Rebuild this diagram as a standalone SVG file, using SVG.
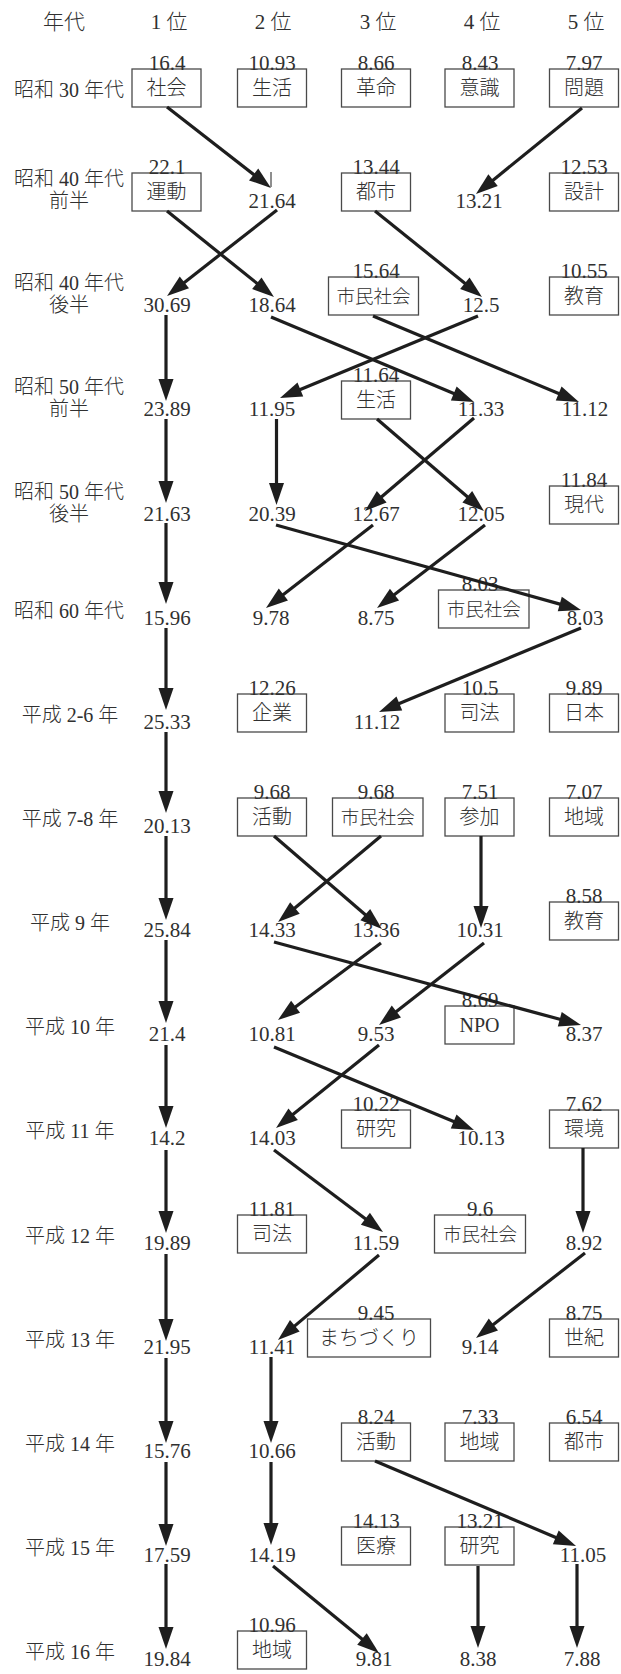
<svg xmlns="http://www.w3.org/2000/svg" width="621" height="1674" viewBox="0 0 621 1674">
<style>
text{font-family:"Liberation Serif","Noto Sans CJK JP",serif;fill:#303030;text-anchor:middle;font-weight:300}
.h{font-size:21px}
.lb{font-size:20px}
.n{font-size:21px}
.b{fill:#fff;stroke:#4a4a4a;stroke-width:1.3}
.t{font-size:20px}
.t2{font-size:18.5px}
.a{stroke:#1e1e1e;stroke-width:3.2;fill:none;marker-end:url(#ah)}
</style>
<defs>
<marker id="ah" markerUnits="userSpaceOnUse" markerWidth="22" markerHeight="15" refX="2" refY="7.5" orient="auto" overflow="visible">
<path d="M0,0 L22,7.5 L0,15 z" fill="#1e1e1e"/>
</marker>
</defs>
<rect width="621" height="1674" fill="#fff"/>
<g id="header">
<text class="h" x="64" y="29">年代</text>
<text class="h" x="169" y="29">1 位</text>
<text class="h" x="273" y="29">2 位</text>
<text class="h" x="378" y="29">3 位</text>
<text class="h" x="482" y="29">4 位</text>
<text class="h" x="586" y="29">5 位</text>
</g>
<g id="row-labels">
<text class="lb" x="69" y="97">昭和 30 年代</text>
<text class="lb" x="69" y="186">昭和 40 年代</text><text class="lb" x="69" y="208">前半</text>
<text class="lb" x="69" y="290">昭和 40 年代</text><text class="lb" x="69" y="312">後半</text>
<text class="lb" x="69" y="394">昭和 50 年代</text><text class="lb" x="69" y="416">前半</text>
<text class="lb" x="69" y="499">昭和 50 年代</text><text class="lb" x="69" y="521">後半</text>
<text class="lb" x="69" y="618">昭和 60 年代</text>
<text class="lb" x="70" y="722">平成 2-6 年</text>
<text class="lb" x="70" y="826">平成 7-8 年</text>
<text class="lb" x="70" y="930">平成 9 年</text>
<text class="lb" x="70" y="1034">平成 10 年</text>
<text class="lb" x="70" y="1138">平成 11 年</text>
<text class="lb" x="70" y="1243">平成 12 年</text>
<text class="lb" x="70" y="1347">平成 13 年</text>
<text class="lb" x="70" y="1451">平成 14 年</text>
<text class="lb" x="70" y="1555">平成 15 年</text>
<text class="lb" x="70" y="1659">平成 16 年</text>
</g>
<g id="nodes">
<g id="r1c1"><rect class="b" x="132" y="69" width="69" height="38"/><text class="n" x="167" y="70">16.4</text><text class="t" x="166.5" y="95">社会</text></g>
<g id="r1c2"><rect class="b" x="237.5" y="69" width="69" height="38"/><text class="n" x="272" y="70">10.93</text><text class="t" x="272" y="95">生活</text></g>
<g id="r1c3"><rect class="b" x="341.5" y="69" width="69" height="38"/><text class="n" x="376" y="70">8.66</text><text class="t" x="376" y="95">革命</text></g>
<g id="r1c4"><rect class="b" x="445" y="69" width="69" height="38"/><text class="n" x="480" y="70">8.43</text><text class="t" x="479.5" y="95">意識</text></g>
<g id="r1c5"><rect class="b" x="549.5" y="69" width="69" height="38"/><text class="n" x="584" y="70">7.97</text><text class="t" x="584" y="95">問題</text></g>

<g id="r2c1"><rect class="b" x="132" y="173" width="69" height="38"/><text class="n" x="167" y="174">22.1</text><text class="t" x="166.5" y="199">運動</text></g>
<g id="r2c2"><text class="n" x="272" y="208">21.64</text></g>
<g id="r2c3"><rect class="b" x="341.5" y="173" width="69" height="38"/><text class="n" x="376" y="174">13.44</text><text class="t" x="376" y="199">都市</text></g>
<g id="r2c4"><text class="n" x="479" y="208">13.21</text></g>
<g id="r2c5"><rect class="b" x="549.5" y="173" width="69" height="38"/><text class="n" x="584" y="174">12.53</text><text class="t" x="584" y="199">設計</text></g>

<g id="r3c1"><text class="n" x="167" y="312">30.69</text></g>
<g id="r3c2"><text class="n" x="272" y="312">18.64</text></g>
<g id="r3c3"><rect class="b" x="328.5" y="277" width="90" height="38"/><text class="n" x="376" y="278">15.64</text><text class="t t2" x="373.5" y="303">市民社会</text></g>
<g id="r3c4"><text class="n" x="481" y="312">12.5</text></g>
<g id="r3c5"><rect class="b" x="549.5" y="277" width="69" height="38"/><text class="n" x="584" y="278">10.55</text><text class="t" x="584" y="303">教育</text></g>

<g id="r4c1"><text class="n" x="167" y="416">23.89</text></g>
<g id="r4c2"><text class="n" x="272" y="416">11.95</text></g>
<g id="r4c3"><rect class="b" x="341.5" y="381" width="69" height="38"/><text class="n" x="376" y="382">11.64</text><text class="t" x="376" y="407">生活</text></g>
<g id="r4c4"><text class="n" x="481" y="416">11.33</text></g>
<g id="r4c5"><text class="n" x="585" y="416">11.12</text></g>

<g id="r5c1"><text class="n" x="167" y="521">21.63</text></g>
<g id="r5c2"><text class="n" x="272" y="521">20.39</text></g>
<g id="r5c3"><text class="n" x="376" y="521">12.67</text></g>
<g id="r5c4"><text class="n" x="481" y="521">12.05</text></g>
<g id="r5c5"><rect class="b" x="549.5" y="486" width="69" height="38"/><text class="n" x="584" y="487">11.84</text><text class="t" x="584" y="512">現代</text></g>

<g id="r6c1"><text class="n" x="167" y="625">15.96</text></g>
<g id="r6c2"><text class="n" x="271" y="625">9.78</text></g>
<g id="r6c3"><text class="n" x="376" y="625">8.75</text></g>
<g id="r6c4"><rect class="b" x="438.5" y="590" width="90.5" height="38"/><text class="n" x="480" y="591">8.03</text><text class="t t2" x="483.7" y="616">市民社会</text></g>
<g id="r6c5"><text class="n" x="585" y="625">8.03</text></g>

<g id="r7c1"><text class="n" x="167" y="729">25.33</text></g>
<g id="r7c2"><rect class="b" x="237.5" y="694" width="69" height="38"/><text class="n" x="272" y="695">12.26</text><text class="t" x="272" y="720">企業</text></g>
<g id="r7c3"><text class="n" x="377" y="729">11.12</text></g>
<g id="r7c4"><rect class="b" x="445" y="694" width="69" height="38"/><text class="n" x="480" y="695">10.5</text><text class="t" x="479.5" y="720">司法</text></g>
<g id="r7c5"><rect class="b" x="549.5" y="694" width="69" height="38"/><text class="n" x="584" y="695">9.89</text><text class="t" x="584" y="720">日本</text></g>

<g id="r8c1"><text class="n" x="167" y="833">20.13</text></g>
<g id="r8c2"><rect class="b" x="237.5" y="798" width="69" height="38"/><text class="n" x="272" y="799">9.68</text><text class="t" x="272" y="824">活動</text></g>
<g id="r8c3"><rect class="b" x="332.5" y="798" width="90.5" height="38"/><text class="n" x="376" y="799">9.68</text><text class="t t2" x="377.8" y="824">市民社会</text></g>
<g id="r8c4"><rect class="b" x="445" y="798" width="69" height="38"/><text class="n" x="480" y="799">7.51</text><text class="t" x="479.5" y="824">参加</text></g>
<g id="r8c5"><rect class="b" x="549.5" y="798" width="69" height="38"/><text class="n" x="584" y="799">7.07</text><text class="t" x="584" y="824">地域</text></g>

<g id="r9c1"><text class="n" x="167" y="937">25.84</text></g>
<g id="r9c2"><text class="n" x="272" y="937">14.33</text></g>
<g id="r9c3"><text class="n" x="376" y="937">13.36</text></g>
<g id="r9c4"><text class="n" x="480" y="937">10.31</text></g>
<g id="r9c5"><rect class="b" x="549.5" y="902" width="69" height="38"/><text class="n" x="584" y="903">8.58</text><text class="t" x="584" y="928">教育</text></g>

<g id="r10c1"><text class="n" x="167" y="1041">21.4</text></g>
<g id="r10c2"><text class="n" x="272" y="1041">10.81</text></g>
<g id="r10c3"><text class="n" x="376" y="1041">9.53</text></g>
<g id="r10c4"><rect class="b" x="445" y="1006" width="69" height="38"/><text class="n" x="480" y="1007">8.69</text><text class="t" x="479.5" y="1032">NPO</text></g>
<g id="r10c5"><text class="n" x="584" y="1041">8.37</text></g>

<g id="r11c1"><text class="n" x="167" y="1145">14.2</text></g>
<g id="r11c2"><text class="n" x="272" y="1145">14.03</text></g>
<g id="r11c3"><rect class="b" x="341.5" y="1110" width="69" height="38"/><text class="n" x="376" y="1111">10.22</text><text class="t" x="376" y="1136">研究</text></g>
<g id="r11c4"><text class="n" x="481" y="1145">10.13</text></g>
<g id="r11c5"><rect class="b" x="549.5" y="1110" width="69" height="38"/><text class="n" x="584" y="1111">7.62</text><text class="t" x="584" y="1136">環境</text></g>

<g id="r12c1"><text class="n" x="167" y="1250">19.89</text></g>
<g id="r12c2"><rect class="b" x="237.5" y="1215" width="69" height="38"/><text class="n" x="272" y="1216">11.81</text><text class="t" x="272" y="1241">司法</text></g>
<g id="r12c3"><text class="n" x="376" y="1250">11.59</text></g>
<g id="r12c4"><rect class="b" x="434.5" y="1215" width="91" height="38"/><text class="n" x="480" y="1216">9.6</text><text class="t t2" x="480" y="1241">市民社会</text></g>
<g id="r12c5"><text class="n" x="584" y="1250">8.92</text></g>

<g id="r13c1"><text class="n" x="167" y="1354">21.95</text></g>
<g id="r13c2"><text class="n" x="272" y="1354">11.41</text></g>
<g id="r13c3"><rect class="b" x="307.5" y="1319" width="123" height="38"/><text class="n" x="376" y="1320">9.45</text><text class="t" x="369" y="1345">まちづくり</text></g>
<g id="r13c4"><text class="n" x="480" y="1354">9.14</text></g>
<g id="r13c5"><rect class="b" x="549.5" y="1319" width="69" height="38"/><text class="n" x="584" y="1320">8.75</text><text class="t" x="584" y="1345">世紀</text></g>

<g id="r14c1"><text class="n" x="167" y="1458">15.76</text></g>
<g id="r14c2"><text class="n" x="272" y="1458">10.66</text></g>
<g id="r14c3"><rect class="b" x="341.5" y="1423" width="69" height="38"/><text class="n" x="376" y="1424">8.24</text><text class="t" x="376" y="1449">活動</text></g>
<g id="r14c4"><rect class="b" x="445" y="1423" width="69" height="38"/><text class="n" x="480" y="1424">7.33</text><text class="t" x="479.5" y="1449">地域</text></g>
<g id="r14c5"><rect class="b" x="549.5" y="1423" width="69" height="38"/><text class="n" x="584" y="1424">6.54</text><text class="t" x="584" y="1449">都市</text></g>

<g id="r15c1"><text class="n" x="167" y="1562">17.59</text></g>
<g id="r15c2"><text class="n" x="272" y="1562">14.19</text></g>
<g id="r15c3"><rect class="b" x="341.5" y="1527" width="69" height="38"/><text class="n" x="376" y="1528">14.13</text><text class="t" x="376" y="1553">医療</text></g>
<g id="r15c4"><rect class="b" x="445" y="1527" width="69" height="38"/><text class="n" x="480" y="1528">13.21</text><text class="t" x="479.5" y="1553">研究</text></g>
<g id="r15c5"><text class="n" x="583" y="1562">11.05</text></g>

<g id="r16c1"><text class="n" x="167" y="1666">19.84</text></g>
<g id="r16c2"><rect class="b" x="237.5" y="1631" width="69" height="38"/><text class="n" x="272" y="1632">10.96</text><text class="t" x="272" y="1657">地域</text></g>
<g id="r16c3"><text class="n" x="374" y="1666">9.81</text></g>
<g id="r16c4"><text class="n" x="478" y="1666">8.38</text></g>
<g id="r16c5"><text class="n" x="582" y="1666">7.88</text></g>
</g>
<g id="connectors">
<line x1="271" y1="172" x2="271" y2="187" stroke="#1e1e1e" stroke-width="1"/>
<line class="a" x1="167" y1="107" x2="255.2" y2="175.7"/>
<line class="a" x1="582" y1="108" x2="491.5" y2="181.4"/>
<line class="a" x1="167" y1="211" x2="258.4" y2="284.5"/>
<line class="a" x1="277" y1="210" x2="182.8" y2="283.7"/>
<line class="a" x1="375" y1="211" x2="466.4" y2="284.5"/>
<line class="a" x1="166" y1="315" x2="166" y2="381"/>
<line class="a" x1="271" y1="317" x2="455.6" y2="394.3"/>
<line class="a" x1="373" y1="316" x2="560.5" y2="394.3"/>
<line class="a" x1="478" y1="316" x2="298.5" y2="390.3"/>
<line class="a" x1="166" y1="419" x2="166" y2="483"/>
<line class="a" x1="276.5" y1="419" x2="276.5" y2="485"/>
<line class="a" x1="377" y1="419" x2="468.8" y2="498"/>
<line class="a" x1="474" y1="418" x2="380.2" y2="498"/>
<line class="a" x1="166" y1="523" x2="166" y2="584"/>
<line class="a" x1="276" y1="525" x2="561.7" y2="604.6"/>
<line class="a" x1="373" y1="525" x2="281.8" y2="595.7"/>
<line class="a" x1="485" y1="525" x2="392.9" y2="595.8"/>
<line class="a" x1="166" y1="628" x2="166" y2="690"/>
<line class="a" x1="581" y1="628" x2="397.5" y2="704.3"/>
<line class="a" x1="166" y1="732" x2="166" y2="793"/>
<line class="a" x1="166" y1="836" x2="166" y2="900"/>
<line class="a" x1="274" y1="836" x2="366.8" y2="916"/>
<line class="a" x1="381" y1="836" x2="293.4" y2="909.2"/>
<line class="a" x1="481" y1="836" x2="481" y2="908"/>
<line class="a" x1="166" y1="940" x2="166" y2="1003"/>
<line class="a" x1="274" y1="942" x2="561.7" y2="1019.8"/>
<line class="a" x1="381" y1="943" x2="294" y2="1008"/>
<line class="a" x1="484" y1="943" x2="394.8" y2="1012.7"/>
<line class="a" x1="166" y1="1045" x2="166" y2="1108"/>
<line class="a" x1="274" y1="1047" x2="455.5" y2="1122.3"/>
<line class="a" x1="379" y1="1045" x2="291.6" y2="1115.5"/>
<line class="a" x1="166" y1="1150" x2="166" y2="1213"/>
<line class="a" x1="274" y1="1150" x2="367" y2="1220"/>
<line class="a" x1="583" y1="1148" x2="583" y2="1213"/>
<line class="a" x1="166" y1="1254" x2="166" y2="1321"/>
<line class="a" x1="379" y1="1255" x2="293.3" y2="1327.1"/>
<line class="a" x1="585" y1="1253" x2="491.8" y2="1325.7"/>
<line class="a" x1="166" y1="1358" x2="166" y2="1423"/>
<line class="a" x1="271" y1="1357" x2="271" y2="1423"/>
<line class="a" x1="166" y1="1462" x2="166" y2="1526"/>
<line class="a" x1="271" y1="1462" x2="271" y2="1525"/>
<line class="a" x1="375" y1="1461" x2="557.6" y2="1538.2"/>
<line class="a" x1="166" y1="1564" x2="166" y2="1629"/>
<line class="a" x1="273" y1="1566" x2="363.5" y2="1640.3"/>
<line class="a" x1="478" y1="1566" x2="478" y2="1628"/>
<line class="a" x1="577" y1="1564" x2="577" y2="1628"/>
</g>
</svg>
